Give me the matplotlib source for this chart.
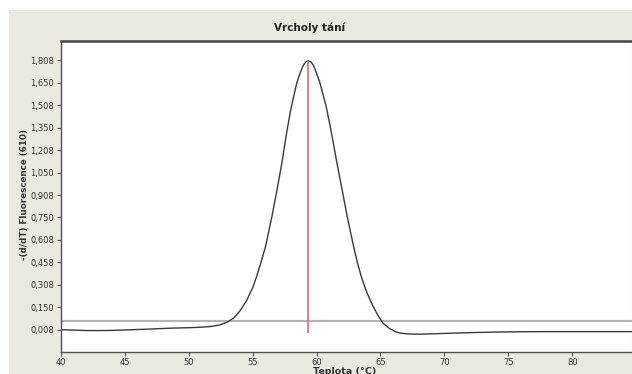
import matplotlib
matplotlib.use('Agg')
import matplotlib.pyplot as plt
from matplotlib.patches import Rectangle

# ── Melt peak data ─────────────────────────────────────────────────────────
TEMP = [40.0, 41.0, 42.0, 43.0, 44.0, 45.0, 46.0, 47.0, 48.0, 49.0, 50.0,
        50.9, 51.7, 52.4, 53.0, 53.5, 54.0, 54.5, 55.0, 55.3, 55.6, 56.0,
        56.5, 56.9, 57.3, 57.5, 57.7, 57.95, 58.2, 58.45, 58.7, 58.95, 59.15, 59.35,
        59.55, 59.75, 60.0, 60.25, 60.5, 60.75,
        61.05, 61.3, 61.6, 62.0, 62.4, 62.9, 63.2, 63.5, 63.9, 64.3, 64.8, 65.2,
        65.7, 66.2, 66.6, 67.3, 68.1, 69.0, 70.0, 72.0, 74.0, 76.0, 78.0,
        80.0, 82.0, 84.7]
DFDT = [0.010, 0.007, 0.004, 0.004, 0.005, 0.008, 0.011, 0.014, 0.018, 0.021, 0.023,
        0.026, 0.031, 0.041, 0.060, 0.087, 0.135, 0.200, 0.290, 0.363, 0.445, 0.563,
        0.763, 0.941, 1.130, 1.240, 1.345, 1.465, 1.563, 1.655, 1.719, 1.772, 1.796, 1.803,
        1.796, 1.773, 1.719, 1.660, 1.580, 1.498,
        1.372, 1.259, 1.118, 0.941, 0.763, 0.563, 0.455, 0.363, 0.265, 0.186, 0.105, 0.053,
        0.018, -0.005, -0.014, -0.019, -0.020, -0.018, -0.015, -0.010, -0.006, -0.004, -0.003,
        -0.003, -0.003, -0.003]

PEAK_TEMP = 59.35
PEAK_RANGE = [-0.010, 1.803]
THRESHOLD = 0.07

X_TICKS = [40, 45, 50, 55, 60, 65, 70, 75, 80]
Y_TICKS = [0.008 + 0.15 * i for i in range(13)]
Y_LABELS = ['0,008', '0,150', '0,308', '0,458', '0,608', '0,750', '0,908',
            '1,050', '1,208', '1,350', '1,508', '1,650', '1,808']

BEIGE = '#ECE9E0'

fig = plt.figure(figsize=(6.32, 3.74), dpi=100, facecolor=BEIGE)
W, H = 632, 374

# white strips at top and left edge of the screenshot
fig.patches.append(Rectangle((0, 1 - 10 / H), 1, 10 / H, transform=fig.transFigure,
                             facecolor='white', edgecolor='none', zorder=-1))
fig.patches.append(Rectangle((0, 0), 9 / W, 1, transform=fig.transFigure,
                             facecolor='white', edgecolor='none', zorder=-1))

ax = fig.add_axes([61 / W, 1 - 351.7 / H, (632 - 61) / W, (351.7 - 41) / H])
ax.set_facecolor('white')

ax.axhline(THRESHOLD, color='#b4b4b4', linewidth=1.5, zorder=1)
ax.plot(TEMP, DFDT, color='#3a3a3a', linewidth=1.0, zorder=2)
ax.vlines(PEAK_TEMP, PEAK_RANGE[0], PEAK_RANGE[1], color='#e8707e', linewidth=1.3, zorder=3)

ax.set_xlim(40, 84.68)
ax.set_ylim(-0.137, 1.935)

ax.set_xticks(X_TICKS)
ax.set_xticklabels([str(t) for t in X_TICKS])
ax.set_yticks(Y_TICKS)
ax.set_yticklabels(Y_LABELS)
ax.tick_params(axis='both', labelsize=6, colors='#555555', labelcolor='#333333',
               length=3, width=0.8, pad=2)
ax.tick_params(axis='x', pad=1.5)

for side in ['left', 'bottom']:
    ax.spines[side].set_color('#505050')
    ax.spines[side].set_linewidth(1.0)
ax.spines['top'].set_color('#444444')
ax.spines['top'].set_linewidth(1.8)
ax.spines['right'].set_color('#e4e4ee')
ax.spines['right'].set_linewidth(0.8)

fig.text(310 / W, 1 - 28 / H, 'Vrcholy tání', ha='center', va='center',
         fontsize=7.5, fontweight='bold', color='#222222')
fig.text(25 / W, 1 - 195 / H, '-(d/dT) Fluorescence (610)', ha='center', va='center',
         rotation=90, fontsize=6.3, fontweight='bold', color='#333333')
# the reference screenshot cuts this label at the bottom edge as well
fig.text(344.5 / W, 1 - 367.5 / H, 'Teplota (°C)', ha='center', va='top',
         fontsize=6.8, fontweight='bold', color='#333333')

plt.savefig('out.png', dpi=100, facecolor=BEIGE)
